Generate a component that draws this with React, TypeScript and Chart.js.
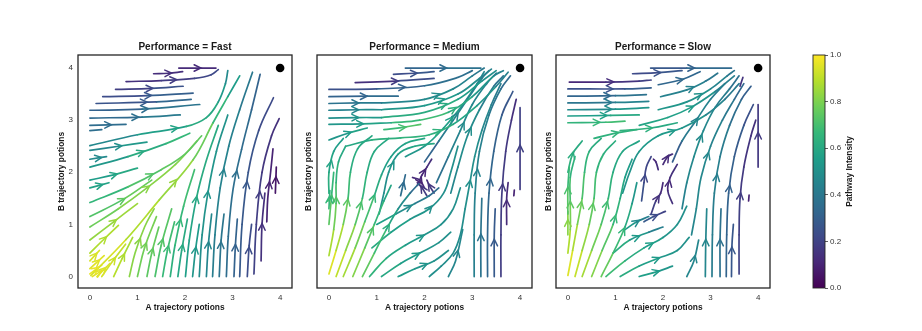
import React, { useEffect, useRef } from 'react';
import { Chart, registerables } from 'chart.js';
Chart.register(...registerables);
Chart.defaults.font.family = "'Liberation Sans', Arial, sans-serif";

type P = [number, number, number]; // x, y, intensity

const PANEL_TITLES = ['Performance = Fast', 'Performance = Medium', 'Performance = Slow'];
const X_TITLE = 'A trajectory potions';
const Y_TITLE = 'B trajectory potions';
const CBAR_TITLE = 'Pathway Intensity';
const X_TICKS = [0, 1, 2, 3, 4];
const Y_TICKS = [0, 1, 2, 3, 4];
const CBAR_TICKS = [0, 0.2, 0.4, 0.6, 0.8, 1.0];
const TARGET_POINT = { x: 4, y: 4 };

const FAST_LINES: P[][] = [
  [[1.87, 4.0, .12], [2.65, 4.0, .12]],
  [[1.34, 3.89, .13], [1.65, 3.9, .13], [1.95, 3.93, .14]],
  [[0.76, 3.74, .12], [1.5, 3.76, .16], [2.2, 3.8, .2], [2.55, 3.87, .22], [2.7, 3.97, .22]],
  [[0.54, 3.59, .15], [1.3, 3.61, .22], [1.96, 3.65, .28]],
  [[0.27, 3.45, .2], [1.2, 3.47, .27], [2.17, 3.52, .33]],
  [[0.13, 3.32, .22], [1.4, 3.35, .3], [2.13, 3.4, .36]],
  [[0, 3.19, .27], [1.1, 3.21, .35], [2.31, 3.3, .42]],
  [[0, 3.04, .3], [1.1, 3.06, .38], [1.9, 3.1, .44]],
  [[0, 2.9, .33], [0.76, 2.92, .38]],
  [[0, 2.8, .35], [0.25, 2.82, .37]],
  [[0, 2.51, .42], [1.0, 2.72, .52], [2.03, 2.88, .6], [2.45, 3.05, .62], [2.7, 3.35, .58], [2.85, 3.7, .5], [2.9, 3.95, .45]],
  [[0, 2.42, .43], [0.6, 2.5, .5], [1.2, 2.58, .56]],
  [[0, 2.25, .45], [0.35, 2.3, .5]],
  [[0, 2.1, .48], [0.8, 2.3, .58], [1.6, 2.55, .65], [2.1, 2.75, .68]],
  [[0, 1.85, .52], [0.5, 1.95, .58], [1.0, 2.08, .62]],
  [[0, 1.7, .55], [0.4, 1.8, .6]],
  [[0, 1.42, .62], [0.8, 1.72, .7], [1.5, 2.05, .74], [2.0, 2.35, .76], [2.35, 2.7, .74]],
  [[0, 1.15, .7], [0.7, 1.48, .75], [1.3, 1.85, .78]],
  [[0, 0.95, .75], [0.6, 1.3, .8], [1.2, 1.7, .82], [1.8, 2.15, .82], [2.25, 2.6, .8]],
  [[0, 0.7, .82], [0.5, 1.05, .85], [1.0, 1.4, .85]],
  [[0, 0.45, .88], [0.3, 0.72, .88], [0.6, 0.98, .88]],
  [[0.02, 0.02, .98], [0.76, 0.71, .9], [1.46, 1.47, .86], [2.17, 2.24, .82], [2.59, 2.95, .72], [2.9, 3.45, .6], [3.15, 3.85, .5]],
  [[0, 0.05, .98], [0.25, 0.22, .96]],
  [[0, 0.15, .97], [0.3, 0.4, .94]],
  [[0.05, 0, .97], [0.32, 0.15, .95]],
  [[0, 0.3, .96], [0.2, 0.5, .93]],
  [[0.15, 0, .96], [0.42, 0.25, .93]],
  [[0.25, 0, .95], [0.5, 0.32, .92], [0.75, 0.62, .9]],
  [[0.5, 0, .9], [0.68, 0.35, .88], [0.9, 0.75, .85]],
  [[0.83, 0, .82], [0.95, 0.45, .82], [1.15, 0.95, .82], [1.35, 1.3, .82]],
  [[1.0, 0, .78], [1.15, 0.55, .78], [1.4, 1.15, .8]],
  [[1.2, 0, .74], [1.3, 0.45, .75], [1.45, 0.95, .77]],
  [[1.37, 0, .7], [1.5, 0.6, .72], [1.72, 1.3, .75]],
  [[1.53, 0, .66], [1.63, 0.5, .68], [1.78, 1.05, .7]],
  [[1.69, 0, .62], [1.79, 0.6, .65], [1.97, 1.35, .68], [2.2, 2.05, .7]],
  [[1.85, 0, .58], [1.93, 0.5, .6], [2.05, 1.1, .62]],
  [[2.01, 0, .55], [2.09, 0.7, .57], [2.24, 1.5, .6], [2.44, 2.2, .62], [2.7, 2.9, .6]],
  [[2.16, 0, .52], [2.22, 0.5, .53], [2.3, 1.0, .55]],
  [[2.3, 0, .48], [2.36, 0.8, .5], [2.48, 1.6, .52], [2.66, 2.4, .52], [2.9, 3.1, .5]],
  [[2.45, 0, .45], [2.49, 0.6, .46], [2.56, 1.2, .48]],
  [[2.58, 0, .42], [2.63, 0.8, .43], [2.74, 1.7, .45], [2.92, 2.5, .45], [3.15, 3.2, .42], [3.42, 3.92, .38]],
  [[2.72, 0, .38], [2.76, 0.7, .39], [2.82, 1.2, .4]],
  [[2.87, 0, .35], [2.91, 0.77, .36], [3.01, 1.67, .37], [3.19, 2.44, .36], [3.4, 3.2, .33], [3.58, 3.88, .3]],
  [[3.03, 0, .31], [3.06, 0.6, .31], [3.1, 1.1, .32]],
  [[3.15, 0, .28], [3.2, 1.0, .28], [3.33, 2.0, .27], [3.55, 2.8, .25], [3.86, 3.43, .2]],
  [[3.31, 0, .24], [3.35, 0.6, .23], [3.4, 1.0, .23]],
  [[3.45, 0.05, .2], [3.5, 1.0, .19], [3.62, 2.0, .17], [3.82, 2.7, .15], [3.98, 3.03, .13]],
  [[3.6, 0.3, .15], [3.62, 1.0, .14], [3.68, 1.6, .13]],
  [[3.72, 1.05, .1], [3.74, 1.5, .1], [3.8, 2.0, .1], [3.85, 2.45, .1]],
  [[3.9, 1.6, .06], [3.92, 2.1, .06]],
];

const MEDIUM_LINES: P[][] = [
  [[1.6, 4.0, .3], [2.4, 4.0, .35], [3.18, 4.0, .4]],
  [[1.35, 3.88, .22], [1.8, 3.9, .25], [2.2, 3.93, .3]],
  [[0.55, 3.72, .1], [1.4, 3.75, .18], [2.2, 3.8, .28]],
  [[0, 3.59, .22], [1.0, 3.6, .27], [2.0, 3.66, .35], [2.7, 3.82, .38], [3.0, 3.95, .35]],
  [[0, 3.45, .3], [0.8, 3.46, .33], [1.45, 3.46, .37]],
  [[0, 3.32, .36], [0.6, 3.33, .4], [1.1, 3.33, .43]],
  [[0, 3.19, .42], [0.6, 3.2, .46], [1.1, 3.2, .5]],
  [[0, 3.04, .48], [0.6, 3.05, .52], [1.1, 3.05, .56]],
  [[0, 2.92, .5], [0.7, 2.93, .55], [1.3, 2.95, .6]],
  [[1.1, 3.33, .43], [2.0, 3.4, .48], [2.6, 3.6, .48], [3.0, 3.85, .42], [3.25, 4.0, .38]],
  [[1.1, 3.2, .5], [2.0, 3.28, .55], [2.7, 3.5, .52], [3.15, 3.8, .47], [3.4, 3.98, .42]],
  [[1.1, 3.05, .58], [2.0, 3.15, .65], [2.7, 3.4, .58], [3.2, 3.75, .52], [3.5, 3.95, .47]],
  [[1.3, 2.95, .62], [1.9, 3.0, .72], [2.5, 3.15, .65], [3.0, 3.45, .57], [3.45, 3.85, .48], [3.65, 3.95, .42]],
  [[1.15, 2.82, .65], [1.55, 2.86, .7], [1.92, 2.92, .75]],
  [[0, 2.62, .5], [0.4, 2.75, .55], [0.8, 2.85, .6]],
  [[0.35, 2.5, .58], [0.9, 2.62, .62], [1.5, 2.66, .64], [2.1, 2.72, .65], [2.6, 2.92, .62], [3.1, 3.28, .55], [3.5, 3.65, .48], [3.75, 3.92, .4]],
  [[0, 0.05, .98], [0.15, 0.5, .92], [0.3, 1.0, .82], [0.4, 1.5, .72], [0.45, 2.0, .64], [0.6, 2.45, .6], [0.9, 2.7, .6]],
  [[0.15, 0, .94], [0.35, 0.5, .87], [0.55, 1.0, .77], [0.7, 1.5, .68], [0.8, 2.0, .62], [0.95, 2.4, .6], [1.25, 2.65, .6]],
  [[0.3, 0, .9], [0.55, 0.55, .82], [0.75, 1.05, .74], [0.95, 1.55, .65], [1.1, 1.95, .58], [1.3, 2.3, .55], [1.6, 2.55, .57], [2.0, 2.65, .6]],
  [[0.5, 0, .85], [0.75, 0.55, .77], [0.95, 1.0, .7], [1.15, 1.45, .62], [1.3, 1.75, .55]],
  [[0.7, 0, .78], [0.95, 0.45, .72], [1.2, 0.9, .64], [1.45, 1.3, .54], [1.7, 1.6, .42], [1.9, 1.8, .28]],
  [[0, 0.4, .92], [0.1, 0.9, .82], [0.15, 1.4, .74], [0.15, 1.8, .67], [0.2, 2.2, .62], [0.35, 2.5, .58]],
  [[0, 1.0, .78], [0.05, 1.5, .7], [0.1, 2.0, .63]],
  [[0, 1.6, .64], [0, 2.0, .6], [0.1, 2.4, .56], [0.3, 2.65, .55]],
  [[0, 1.3, .68], [0.02, 1.65, .64]],
  [[0.85, 0, .68], [1.2, 0.35, .62], [1.6, 0.6, .56], [2.0, 0.8, .52], [2.35, 1.0, .5], [2.6, 1.3, .5], [2.75, 1.7, .5]],
  [[1.1, 0, .62], [1.5, 0.25, .57], [1.9, 0.45, .53], [2.3, 0.65, .5], [2.55, 0.85, .5]],
  [[1.45, 0, .56], [1.8, 0.15, .53], [2.2, 0.3, .5], [2.5, 0.5, .5]],
  [[0.9, 0.55, .63], [1.3, 0.85, .58], [1.7, 1.1, .54], [2.1, 1.3, .5], [2.4, 1.6, .5], [2.55, 2.0, .5], [2.7, 2.5, .5]],
  [[1.0, 1.0, .6], [1.4, 1.2, .53], [1.8, 1.4, .45], [2.1, 1.55, .38], [2.3, 1.7, .32]],
  [[2.1, 0, .5], [2.35, 0.2, .49], [2.6, 0.45, .49], [2.75, 0.8, .49], [2.85, 1.3, .49], [2.95, 1.8, .5], [3.05, 2.3, .5], [3.2, 2.8, .48], [3.4, 3.3, .44], [3.6, 3.7, .4]],
  [[2.5, 0, .46], [2.65, 0.3, .46], [2.8, 0.9, .46]],
  [[3.04, 0, .43], [3.04, 0.8, .43], [3.06, 1.6, .45], [3.15, 2.4, .45], [3.35, 3.1, .42], [3.6, 3.6, .37], [3.8, 3.85, .32]],
  [[3.18, 0, .38], [3.18, 0.8, .38], [3.2, 1.5, .39]],
  [[3.32, 0, .33], [3.32, 0.8, .33], [3.35, 1.6, .33], [3.45, 2.4, .32], [3.62, 3.1, .3], [3.85, 3.55, .24]],
  [[3.46, 0, .28], [3.46, 0.8, .28], [3.48, 1.3, .28]],
  [[3.6, 0, .18], [3.6, 0.8, .18], [3.62, 1.6, .17], [3.7, 2.4, .18], [3.82, 3.0, .15], [3.92, 3.4, .12]],
  [[3.72, 1.0, .12], [3.72, 1.5, .12], [3.75, 1.8, .12]],
  [[4.0, 1.67, .17], [4.0, 2.5, .19], [4.0, 3.24, .2]],
  [[3.87, 1.55, .1], [3.88, 1.66, .1]],
  [[2.25, 1.8, .32], [2.5, 2.3, .42], [2.75, 2.8, .48], [3.0, 3.3, .48], [3.3, 3.7, .43], [3.5, 3.9, .38]],
  [[2.55, 1.6, .45], [2.7, 2.1, .47], [2.9, 2.7, .5], [3.15, 3.2, .46], [3.45, 3.65, .4], [3.65, 3.85, .35]],
  [[2.0, 2.2, .27], [2.3, 2.6, .38], [2.6, 3.0, .46], [2.9, 3.4, .48], [3.2, 3.8, .43], [3.35, 3.95, .38]],
  [[1.6, 2.3, .5], [2.0, 2.5, .55], [2.4, 2.85, .58], [2.8, 3.3, .54], [3.1, 3.7, .48], [3.25, 3.93, .43]],
  [[1.85, 1.75, .15], [1.95, 1.95, .1], [2.05, 2.1, .12], [2.15, 2.25, .15]],
  [[1.75, 1.9, .15], [1.9, 1.85, .1], [2.0, 1.7, .12]],
  [[2.05, 1.55, .2], [1.95, 1.7, .15], [1.85, 1.8, .12]],
  [[2.2, 1.6, .2], [2.1, 1.75, .15], [2.05, 1.85, .12]],
  [[1.05, 1.2, .52], [1.15, 1.6, .48], [1.25, 2.0, .5], [1.45, 2.35, .55], [1.8, 2.5, .6], [2.2, 2.55, .6]],
  [[1.5, 1.55, .38], [1.55, 1.75, .35], [1.6, 1.95, .33]],
];

const SLOW_LINES: P[][] = [
  [[1.74, 4.0, .25], [2.5, 4.0, .3], [3.44, 4.0, .38]],
  [[1.36, 3.89, .2], [1.9, 3.91, .25], [2.4, 3.95, .28]],
  [[0.03, 3.73, .1], [0.8, 3.73, .12], [1.5, 3.75, .18], [1.75, 3.77, .2]],
  [[0, 3.6, .22], [1.2, 3.6, .27], [1.75, 3.62, .32]],
  [[0, 3.46, .3], [1.0, 3.47, .35], [1.65, 3.49, .4]],
  [[0, 3.33, .37], [1.0, 3.34, .42], [1.7, 3.36, .47]],
  [[0, 3.2, .45], [1.0, 3.21, .5], [1.7, 3.24, .55]],
  [[0, 3.08, .53], [0.9, 3.09, .58], [1.5, 3.1, .62]],
  [[0, 2.95, .62], [0.8, 2.96, .68], [1.2, 2.98, .7]],
  [[1.9, 3.68, .32], [2.4, 3.78, .34], [2.78, 3.93, .32]],
  [[1.95, 3.45, .43], [2.5, 3.58, .45], [2.9, 3.75, .42], [3.15, 3.9, .37]],
  [[1.9, 3.2, .52], [2.5, 3.35, .53], [3.0, 3.6, .48], [3.35, 3.85, .42], [3.5, 3.95, .37]],
  [[1.5, 2.9, .58], [2.1, 3.05, .58], [2.6, 3.25, .55], [3.1, 3.55, .48], [3.5, 3.85, .38]],
  [[1.1, 2.8, .65], [1.74, 2.85, .63], [2.3, 2.95, .58]],
  [[0.55, 2.65, .63], [1.0, 2.75, .65], [1.45, 2.82, .63]],
  [[0, 0.02, .98], [0.1, 0.5, .92], [0.2, 1.0, .82], [0.3, 1.5, .74], [0.35, 2.0, .68], [0.45, 2.4, .63], [0.7, 2.65, .6]],
  [[0.15, 0, .95], [0.3, 0.5, .87], [0.45, 1.0, .79], [0.55, 1.5, .72], [0.6, 2.0, .67], [0.75, 2.35, .63], [1.0, 2.6, .62]],
  [[0.3, 0, .9], [0.5, 0.5, .82], [0.7, 1.0, .74], [0.85, 1.5, .67], [0.95, 2.0, .62], [1.15, 2.4, .58], [1.5, 2.6, .58]],
  [[0.5, 0, .85], [0.72, 0.5, .77], [0.95, 1.0, .69], [1.1, 1.5, .62], [1.2, 1.9, .57], [1.35, 2.25, .53]],
  [[0.7, 0, .8], [0.95, 0.45, .72], [1.2, 0.95, .64], [1.35, 1.4, .57], [1.45, 1.8, .48]],
  [[0, 0.45, .92], [0.05, 0.9, .84], [0.05, 1.4, .74], [0.05, 1.9, .67], [0.15, 2.3, .62]],
  [[0, 1.2, .77], [0, 1.7, .7], [0.03, 2.1, .65]],
  [[0, 2.0, .65], [0.1, 2.35, .62], [0.3, 2.6, .6]],
  [[0, 0.8, .87], [0, 1.25, .77]],
  [[1.55, 1.45, .27], [1.6, 1.8, .22], [1.65, 2.1, .2], [1.75, 2.3, .22]],
  [[1.75, 1.2, .22], [1.85, 1.45, .16], [1.95, 1.6, .12], [2.0, 1.8, .12]],
  [[1.6, 1.05, .32], [1.8, 1.15, .24], [2.05, 1.25, .16]],
  [[2.2, 1.4, .16], [2.1, 1.65, .12], [2.15, 1.9, .12], [2.3, 2.15, .16]],
  [[1.9, 2.05, .15], [1.85, 2.2, .12], [1.8, 2.25, .1]],
  [[2.0, 2.15, .12], [2.1, 2.3, .12], [2.2, 2.35, .15]],
  [[0.8, 0, .72], [1.2, 0.3, .65], [1.6, 0.55, .58], [2.0, 0.75, .53], [2.3, 1.0, .5], [2.5, 1.35, .5]],
  [[1.1, 0, .65], [1.5, 0.2, .58], [1.9, 0.35, .54], [2.3, 0.5, .51], [2.55, 0.75, .5]],
  [[1.5, 0, .58], [1.9, 0.1, .54], [2.2, 0.2, .51]],
  [[0.95, 0.45, .65], [1.3, 0.7, .58], [1.7, 0.85, .48], [2.0, 0.95, .38]],
  [[1.2, 0.9, .58], [1.45, 1.05, .48], [1.7, 1.15, .38]],
  [[1.15, 1.6, .53], [1.3, 2.0, .5], [1.5, 2.4, .53], [1.9, 2.7, .54], [2.4, 2.85, .54], [2.9, 3.1, .48], [3.3, 3.4, .43], [3.6, 3.7, .37]],
  [[2.4, 1.3, .43], [2.5, 1.8, .45], [2.65, 2.3, .48], [2.85, 2.8, .48], [3.1, 3.25, .45], [3.4, 3.6, .4], [3.6, 3.85, .34]],
  [[2.2, 2.2, .22], [2.4, 2.6, .37], [2.7, 3.0, .45], [3.0, 3.4, .45], [3.3, 3.7, .38]],
  [[2.6, 0.8, .46], [2.7, 1.3, .46], [2.8, 1.9, .47], [3.0, 2.5, .46], [3.25, 3.0, .43], [3.5, 3.4, .37], [3.7, 3.7, .3]],
  [[2.89, 0, .46], [2.9, 0.7, .46], [2.92, 1.3, .46]],
  [[3.03, 0, .42], [3.04, 0.8, .42], [3.08, 1.6, .43], [3.2, 2.3, .43], [3.4, 2.9, .4], [3.65, 3.4, .33], [3.85, 3.65, .27]],
  [[3.2, 0, .37], [3.2, 0.7, .37], [3.22, 1.3, .37]],
  [[3.33, 0, .32], [3.34, 0.8, .32], [3.38, 1.6, .31], [3.5, 2.3, .3], [3.7, 2.9, .27], [3.9, 3.3, .22]],
  [[3.44, 0, .27], [3.45, 0.6, .27], [3.48, 1.0, .27]],
  [[3.6, 0.05, .2], [3.6, 0.8, .2], [3.62, 1.5, .18], [3.7, 2.1, .16], [3.85, 2.7, .15], [3.95, 3.0, .13]],
  [[4.0, 2.1, .16], [4.0, 2.7, .17], [4.0, 3.3, .17]],
  [[3.8, 1.45, .1], [3.81, 1.56, .1]],
  [[3.62, 3.65, .15], [3.68, 3.82, .15]],
  [[2.5, 0, .46], [2.65, 0.3, .46], [2.75, 0.7, .46]],
];

const PANEL_LINES = [FAST_LINES, MEDIUM_LINES, SLOW_LINES];

const VIRIDIS = ['#440154', '#482878', '#3e4a89', '#31688e', '#26828e', '#1f9e89', '#35b779', '#6ece58', '#b5de2b', '#fde725'];

function hexToRgb(h: string) {
  return [parseInt(h.slice(1, 3), 16), parseInt(h.slice(3, 5), 16), parseInt(h.slice(5, 7), 16)];
}
function viridis(t: number) {
  const v = Math.max(0, Math.min(1, t));
  const n = VIRIDIS.length - 1;
  const i = Math.min(n - 1, Math.floor(v * n));
  const f = v * n - i;
  const a = hexToRgb(VIRIDIS[i]);
  const b = hexToRgb(VIRIDIS[i + 1]);
  const c = a.map((x, k) => Math.round(x + (b[k] - x) * f));
  return `rgb(${c[0]},${c[1]},${c[2]})`;
}

const FRAME_COLOR = '#262626';
const TICK_COLOR = '#333333';

function makeLayoutPlugin(title: string, lines: P[][]) {
  return {
    id: 'streamDecor',
    afterDatasetsDraw(chart: any) {
      const ctx = chart.ctx;
      ctx.save();
      lines.forEach((line, li) => {
        const meta = chart.getDatasetMeta(li + 1);
        const pts = meta.data.map((e: any) => [e.x, e.y]);
        if (pts.length < 2) return;
        let total = 0;
        const seg: number[] = [];
        for (let i = 1; i < pts.length; i++) {
          const d = Math.hypot(pts[i][0] - pts[i - 1][0], pts[i][1] - pts[i - 1][1]);
          seg.push(d);
          total += d;
        }
        if (total < 12) return;
        let half = total / 2;
        let k = 0;
        while (k < seg.length - 1 && half > seg[k]) { half -= seg[k]; k++; }
        const f = seg[k] ? half / seg[k] : 0;
        const [x0, y0] = pts[k];
        const [x1, y1] = pts[k + 1];
        const mx = x0 + (x1 - x0) * f;
        const my = y0 + (y1 - y0) * f;
        const dx = (x1 - x0) / (seg[k] || 1);
        const dy = (y1 - y0) / (seg[k] || 1);
        const c = line[k][2] + (line[k + 1][2] - line[k][2]) * f;
        const L = 7.5;
        const ang = 0.45;
        const tx = mx + dx * 3.5;
        const ty = my + dy * 3.5;
        const ca = Math.cos(ang), sa = Math.sin(ang);
        const w1x = tx - L * (dx * ca - dy * sa);
        const w1y = ty - L * (dy * ca + dx * sa);
        const w2x = tx - L * (dx * ca + dy * sa);
        const w2y = ty - L * (dy * ca - dx * sa);
        ctx.strokeStyle = viridis(c);
        ctx.lineWidth = 1.5;
        ctx.lineCap = 'round';
        ctx.lineJoin = 'miter';
        ctx.beginPath();
        ctx.moveTo(w1x, w1y);
        ctx.lineTo(tx, ty);
        ctx.lineTo(w2x, w2y);
        ctx.stroke();
      });
      ctx.restore();
    },
    afterDraw(chart: any) {
      const { ctx, chartArea } = chart;
      ctx.save();
      ctx.strokeStyle = FRAME_COLOR;
      ctx.lineWidth = 1.3;
      ctx.strokeRect(chartArea.left, chartArea.top, chartArea.right - chartArea.left, chartArea.bottom - chartArea.top);
      ctx.fillStyle = '#1a1a1a';
      ctx.font = "bold 10px 'Liberation Sans', Arial, sans-serif";
      ctx.textAlign = 'center';
      ctx.textBaseline = 'middle';
      ctx.fillText(title, (chartArea.left + chartArea.right) / 2, chartArea.top - 8);
      ctx.restore();
    },
  };
}

type PanelProps = {
  index: number;
  left: number;
  width: number;
  padLeft: number;
  yWidth: number;
  padRight: number;
  showYTicks: boolean;
};

function Panel({ index, left, width, padLeft, yWidth, padRight, showYTicks }: PanelProps) {
  const ref = useRef<HTMLCanvasElement>(null);
  useEffect(() => {
    const lines = PANEL_LINES[index];
    const datasets: any[] = [
      {
        data: [TARGET_POINT],
        pointRadius: 4.3,
        pointBackgroundColor: '#000',
        pointBorderWidth: 0,
        showLine: false,
      },
    ];
    lines.forEach((line) => {
      datasets.push({
        data: line.map((p) => ({ x: p[0], y: p[1] })),
        showLine: true,
        pointRadius: 0,
        pointHoverRadius: 0,
        borderWidth: 1.7,
        tension: 0.4,
        borderCapStyle: 'round',
        borderColor: viridis(line[0][2]),
        segment: {
          borderColor: (ctx: any) => viridis((line[ctx.p0DataIndex][2] + line[ctx.p1DataIndex][2]) / 2),
        },
        fill: false,
      });
    });
    const chart = new Chart(ref.current!, {
      type: 'scatter',
      data: { datasets },
      options: {
        animation: false,
        responsive: false,
        devicePixelRatio: 1,
        events: [],
        layout: { padding: { left: padLeft, right: padRight, top: 55, bottom: 14 } },
        plugins: { legend: { display: false }, tooltip: { enabled: false }, title: { display: false } },
        scales: {
          x: {
            type: 'linear',
            min: -0.25,
            max: 4.25,
            afterBuildTicks: (s: any) => { s.ticks = X_TICKS.map((v) => ({ value: v })); },
            afterFit: (s: any) => { s.height = 29; },
            grid: { display: false, drawTicks: false },
            border: { display: false },
            ticks: { font: { size: 8 }, color: TICK_COLOR, padding: 5 },
            title: { display: true, text: X_TITLE, font: { size: 8.4, weight: 'bold' }, color: '#1a1a1a', padding: { top: 2, bottom: 4 } },
          },
          y: {
            type: 'linear',
            min: -0.22,
            max: 4.25,
            afterBuildTicks: (s: any) => { s.ticks = Y_TICKS.map((v) => ({ value: v })); },
            afterFit: (s: any) => { s.width = yWidth; },
            grid: { display: false, drawTicks: false },
            border: { display: false },
            ticks: { display: showYTicks, font: { size: 8 }, color: TICK_COLOR, padding: 5 },
            title: { display: true, text: Y_TITLE, font: { size: 8.4, weight: 'bold' }, color: '#1a1a1a', padding: { top: 4, bottom: 2 } },
          },
        },
      } as any,
      plugins: [makeLayoutPlugin(PANEL_TITLES[index], lines)],
    });
    return () => chart.destroy();
  }, []);
  return (
    <canvas
      ref={ref}
      width={width}
      height={331}
      style={{ position: 'absolute', left, top: 0, width, height: 331 }}
    />
  );
}

function ColorBar() {
  const ref = useRef<HTMLCanvasElement>(null);
  useEffect(() => {
    const plugin = {
      id: 'cbar',
      beforeDatasetsDraw(chart: any) {
        const { ctx, chartArea } = chart;
        const g = ctx.createLinearGradient(0, chartArea.bottom, 0, chartArea.top);
        VIRIDIS.forEach((c, i) => g.addColorStop(i / (VIRIDIS.length - 1), c));
        ctx.save();
        ctx.fillStyle = g;
        ctx.fillRect(chartArea.left, chartArea.top, chartArea.right - chartArea.left, chartArea.bottom - chartArea.top);
        ctx.strokeStyle = FRAME_COLOR;
        ctx.lineWidth = 0.9;
        ctx.strokeRect(chartArea.left, chartArea.top, chartArea.right - chartArea.left, chartArea.bottom - chartArea.top);
        ctx.restore();
      },
      afterDraw(chart: any) {
        const { ctx, chartArea } = chart;
        ctx.save();
        ctx.translate(60, (chartArea.top + chartArea.bottom) / 2);
        ctx.rotate(-Math.PI / 2);
        ctx.fillStyle = '#1a1a1a';
        ctx.font = "bold 8.4px 'Liberation Sans', Arial, sans-serif";
        ctx.textAlign = 'center';
        ctx.textBaseline = 'middle';
        ctx.fillText(CBAR_TITLE, 0, 0);
        ctx.restore();
      },
    };
    const chart = new Chart(ref.current!, {
      type: 'scatter',
      data: { datasets: [{ data: [] }] },
      options: {
        animation: false,
        responsive: false,
        devicePixelRatio: 1,
        events: [],
        layout: { padding: { left: 23, right: 57, top: 55, bottom: 43 } },
        plugins: { legend: { display: false }, tooltip: { enabled: false } },
        scales: {
          x: { type: 'linear', display: false, min: 0, max: 1 },
          y: {
            type: 'linear',
            position: 'right',
            min: 0,
            max: 1,
            afterBuildTicks: (s: any) => { s.ticks = CBAR_TICKS.map((v) => ({ value: v })); },
            afterFit: (s: any) => { s.width = 40; },
            grid: { drawOnChartArea: false, drawTicks: true, tickLength: 3, color: TICK_COLOR, lineWidth: 0.8 },
            border: { display: false },
            ticks: { font: { size: 8 }, color: TICK_COLOR, padding: 2, callback: (v: any) => Number(v).toFixed(1) },
          },
        },
      } as any,
      plugins: [plugin],
    });
    return () => chart.destroy();
  }, []);
  return (
    <canvas
      ref={ref}
      width={132}
      height={331}
      style={{ position: 'absolute', left: 790, top: 0, width: 132, height: 331 }}
    />
  );
}

export default function App() {
  return (
    <div style={{ position: 'absolute', left: 0, top: 0, width: 922, height: 331, background: '#fff', overflow: 'hidden' }}>
      <Panel index={0} left={0} width={300} padLeft={53} yWidth={25} padRight={8} showYTicks={true} />
      <Panel index={1} left={300} width={240} padLeft={0} yWidth={17} padRight={8} showYTicks={false} />
      <Panel index={2} left={539} width={241} padLeft={1} yWidth={16} padRight={10} showYTicks={false} />
      <ColorBar />
    </div>
  );
}
